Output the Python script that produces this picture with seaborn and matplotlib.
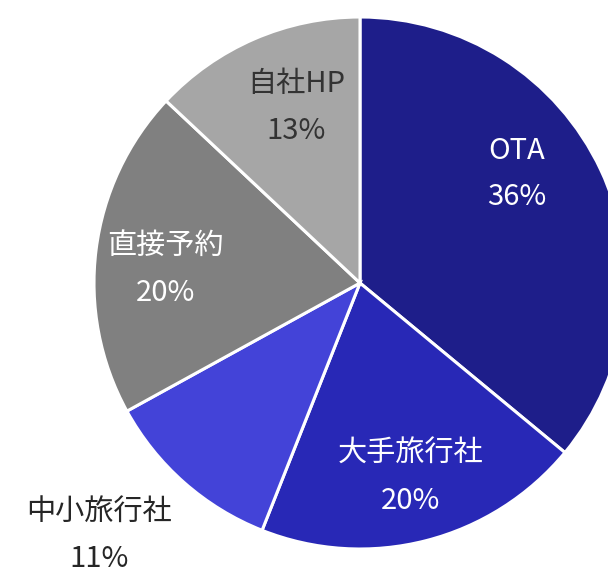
import matplotlib
matplotlib.use("Agg")
import matplotlib.pyplot as plt
import seaborn as sns

# booking channel shares (%)
channels = ["OTA", "大手旅行社", "中小旅行社", "直接予約", "自社HP"]
shares = [36, 20, 11, 20, 13]
slice_colors = ["#1e1e8a", "#2828b6", "#4343d8", "#808080", "#a6a6a6"]

sns.set_theme(style="white")
plt.rcParams["font.family"] = ["Noto Sans CJK JP", "DejaVu Sans"]

# label anchor points relative to pie centre (radius = 1) and label colours
label_pos = [(0.59, 0.41), (0.19, -0.73), (-0.98, -0.95), (-0.73, 0.05), (-0.24, 0.66)]
label_colors = ["white", "white", "#262626", "white", "#333333"]

fig = plt.figure(figsize=(6.08, 5.77), dpi=100)
ax = fig.add_axes([0, 0, 1, 1])

ax.pie(shares, colors=slice_colors, startangle=90, counterclock=False,
       wedgeprops=dict(edgecolor="white", linewidth=2.2))

for name, val, (x, y), c in zip(channels, shares, label_pos, label_colors):
    ax.text(x, y + 0.088, name, ha="center", va="center", fontsize=21, color=c)
    ax.text(x, y - 0.088, f"{val}%", ha="center", va="center", fontsize=21, color=c)

# pie centre at (360, 283) px, radius ~266 px
r = 266
ax.set_xlim(-360 / r, (608 - 360) / r)
ax.set_ylim(-(577 - 283) / r, 283 / r)
ax.set_aspect("equal", adjustable="box")
ax.axis("off")

fig.savefig("out.png", dpi=100)
